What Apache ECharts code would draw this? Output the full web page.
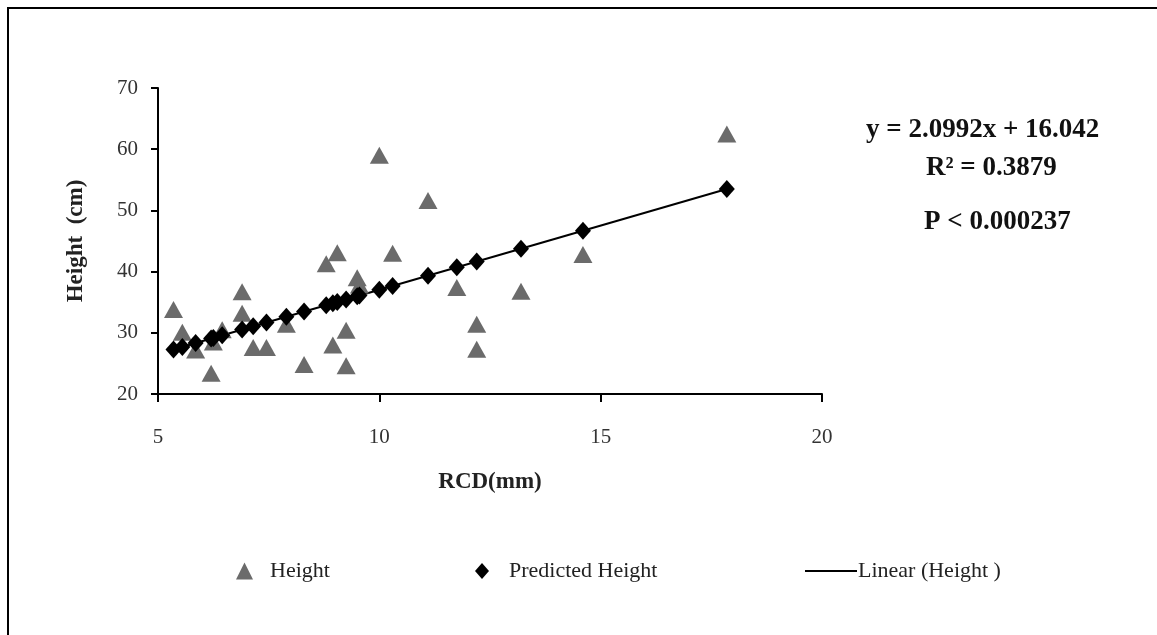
<!DOCTYPE html>
<html>
<head>
<meta charset="utf-8">
<script src="https://cdn.jsdelivr.net/npm/echarts@6/dist/echarts.min.js"></script>
<style>
  html, body { margin: 0; padding: 0; background: #fff; }
  #chart { width: 1157px; height: 635px; }
</style>
</head>
<body>
<div id="chart"></div>
<script>
// values
var rcd = [5.35, 5.55, 5.85, 6.2, 6.25, 6.45, 6.9, 6.9, 7.15, 7.45, 7.9, 8.3, 8.8, 8.95, 9.05, 9.25, 9.25, 9.5, 9.55, 10.0, 10.3, 11.1, 11.75, 12.2, 12.2, 13.2, 14.6, 17.85];
var height = [33.8, 30.1, 27.2, 23.4, 28.5, 30.5, 36.7, 33.2, 27.6, 27.6, 31.4, 24.8, 41.3, 28.0, 43.1, 30.4, 24.6, 39.0, 37.8, 59.0, 43.0, 51.6, 37.4, 31.4, 27.3, 36.8, 42.8, 62.5];
var predRcd = [5.35, 5.55, 5.85, 6.2, 6.25, 6.45, 6.9, 7.15, 7.45, 7.9, 8.3, 8.8, 8.95, 9.05, 9.25, 9.5, 9.55, 10.0, 10.3, 11.1, 11.75, 12.2, 13.2, 14.6, 17.85];
var predHeight = [27.27, 27.69, 28.32, 29.06, 29.16, 29.58, 30.53, 31.05, 31.68, 32.63, 33.47, 34.51, 34.83, 35.04, 35.46, 35.98, 36.09, 37.03, 37.66, 39.34, 40.71, 41.65, 43.75, 46.69, 53.51];
var trendRcd = [5.35, 17.85];
var trendHeight = [27.27, 53.51];
var statLines = ['y = 2.0992x + 16.042', 'R\u00b2 = 0.3879', 'P < 0.000237'];

var serif = '"Liberation Serif", "DejaVu Serif", serif';

function pairs(xs, ys) {
  return xs.map(function (x, i) { return [x, ys[i]]; });
}

var chart = echarts.init(document.getElementById('chart'));

var legendBase = {
  top: 555,
  itemGap: 0,
  textStyle: { fontFamily: serif, fontSize: 22, color: '#222' }
};

chart.setOption({
  animation: false,
  grid: { left: 158, right: 335, top: 88, bottom: 241, containLabel: false },
  xAxis: {
    type: 'value',
    min: 5, max: 20, interval: 5,
    name: 'RCD(mm)',
    nameLocation: 'middle',
    nameGap: 77,
    nameTextStyle: { fontFamily: serif, fontSize: 23, fontWeight: 'bold', color: '#222' },
    axisLine: { show: true, onZero: false, lineStyle: { color: '#000', width: 2 } },
    axisTick: { show: true, inside: false, length: 8, lineStyle: { color: '#000', width: 2 } },
    axisLabel: { fontFamily: serif, fontSize: 21, color: '#333', margin: 33 },
    splitLine: { show: false }
  },
  yAxis: {
    type: 'value',
    min: 20, max: 70, interval: 10,
    name: 'Height  (cm)',
    nameLocation: 'middle',
    nameGap: 70,
    nameRotate: 90,
    nameTextStyle: { fontFamily: serif, fontSize: 23, fontWeight: 'bold', color: '#222' },
    axisLine: { show: true, onZero: false, lineStyle: { color: '#000', width: 2 } },
    axisTick: { show: true, inside: false, length: 7, lineStyle: { color: '#000', width: 2 } },
    axisLabel: { fontFamily: serif, fontSize: 21, color: '#333', margin: 20 },
    splitLine: { show: false }
  },
  legend: [
    Object.assign({}, legendBase, {
      left: 231, data: [{ name: 'Height', icon: 'triangle' }], itemWidth: 17, itemHeight: 17,
      textStyle: Object.assign({}, legendBase.textStyle, { padding: [0, 0, 0, 12] })
    }),
    Object.assign({}, legendBase, {
      left: 470, data: [{ name: 'Predicted Height', icon: 'diamond' }], itemWidth: 14, itemHeight: 16,
      textStyle: Object.assign({}, legendBase.textStyle, { padding: [0, 0, 0, 15] })
    }),
    Object.assign({}, legendBase, {
      left: 800, data: [{ name: 'Linear (Height )', icon: 'rect', itemStyle: { color: '#000' } }], itemWidth: 52, itemHeight: 2,
      textStyle: Object.assign({}, legendBase.textStyle, { padding: [0, 0, 0, -4] })
    })
  ],
  graphic: [
    { type: 'rect', shape: { x: 8, y: 8, width: 1170, height: 650 }, style: { fill: 'none', stroke: '#000', lineWidth: 2 }, silent: true },
    { type: 'text', left: 866, top: 117, style: { text: statLines[0], font: 'bold 27px ' + serif, fill: '#111' } },
    { type: 'text', left: 926, top: 155, style: { text: statLines[1], font: 'bold 27px ' + serif, fill: '#111' } },
    { type: 'text', left: 924, top: 209, style: { text: statLines[2], font: 'bold 27px ' + serif, fill: '#111' } }
  ],
  series: [
    {
      name: 'Linear (Height )',
      type: 'line',
      data: pairs(trendRcd, trendHeight),
      symbol: 'none',
      lineStyle: { color: '#000', width: 2 },
      itemStyle: { color: '#000' },
      z: 1
    },
    {
      name: 'Height',
      type: 'scatter',
      data: pairs(rcd, height),
      symbol: 'triangle',
      symbolSize: [19, 17],
      itemStyle: { color: '#6b6b6b', opacity: 1 },
      z: 2
    },
    {
      name: 'Predicted Height',
      type: 'scatter',
      data: pairs(predRcd, predHeight),
      symbol: 'diamond',
      symbolSize: [16, 18],
      itemStyle: { color: '#000', opacity: 1 },
      z: 3
    }
  ]
});
</script>
</body>
</html>
